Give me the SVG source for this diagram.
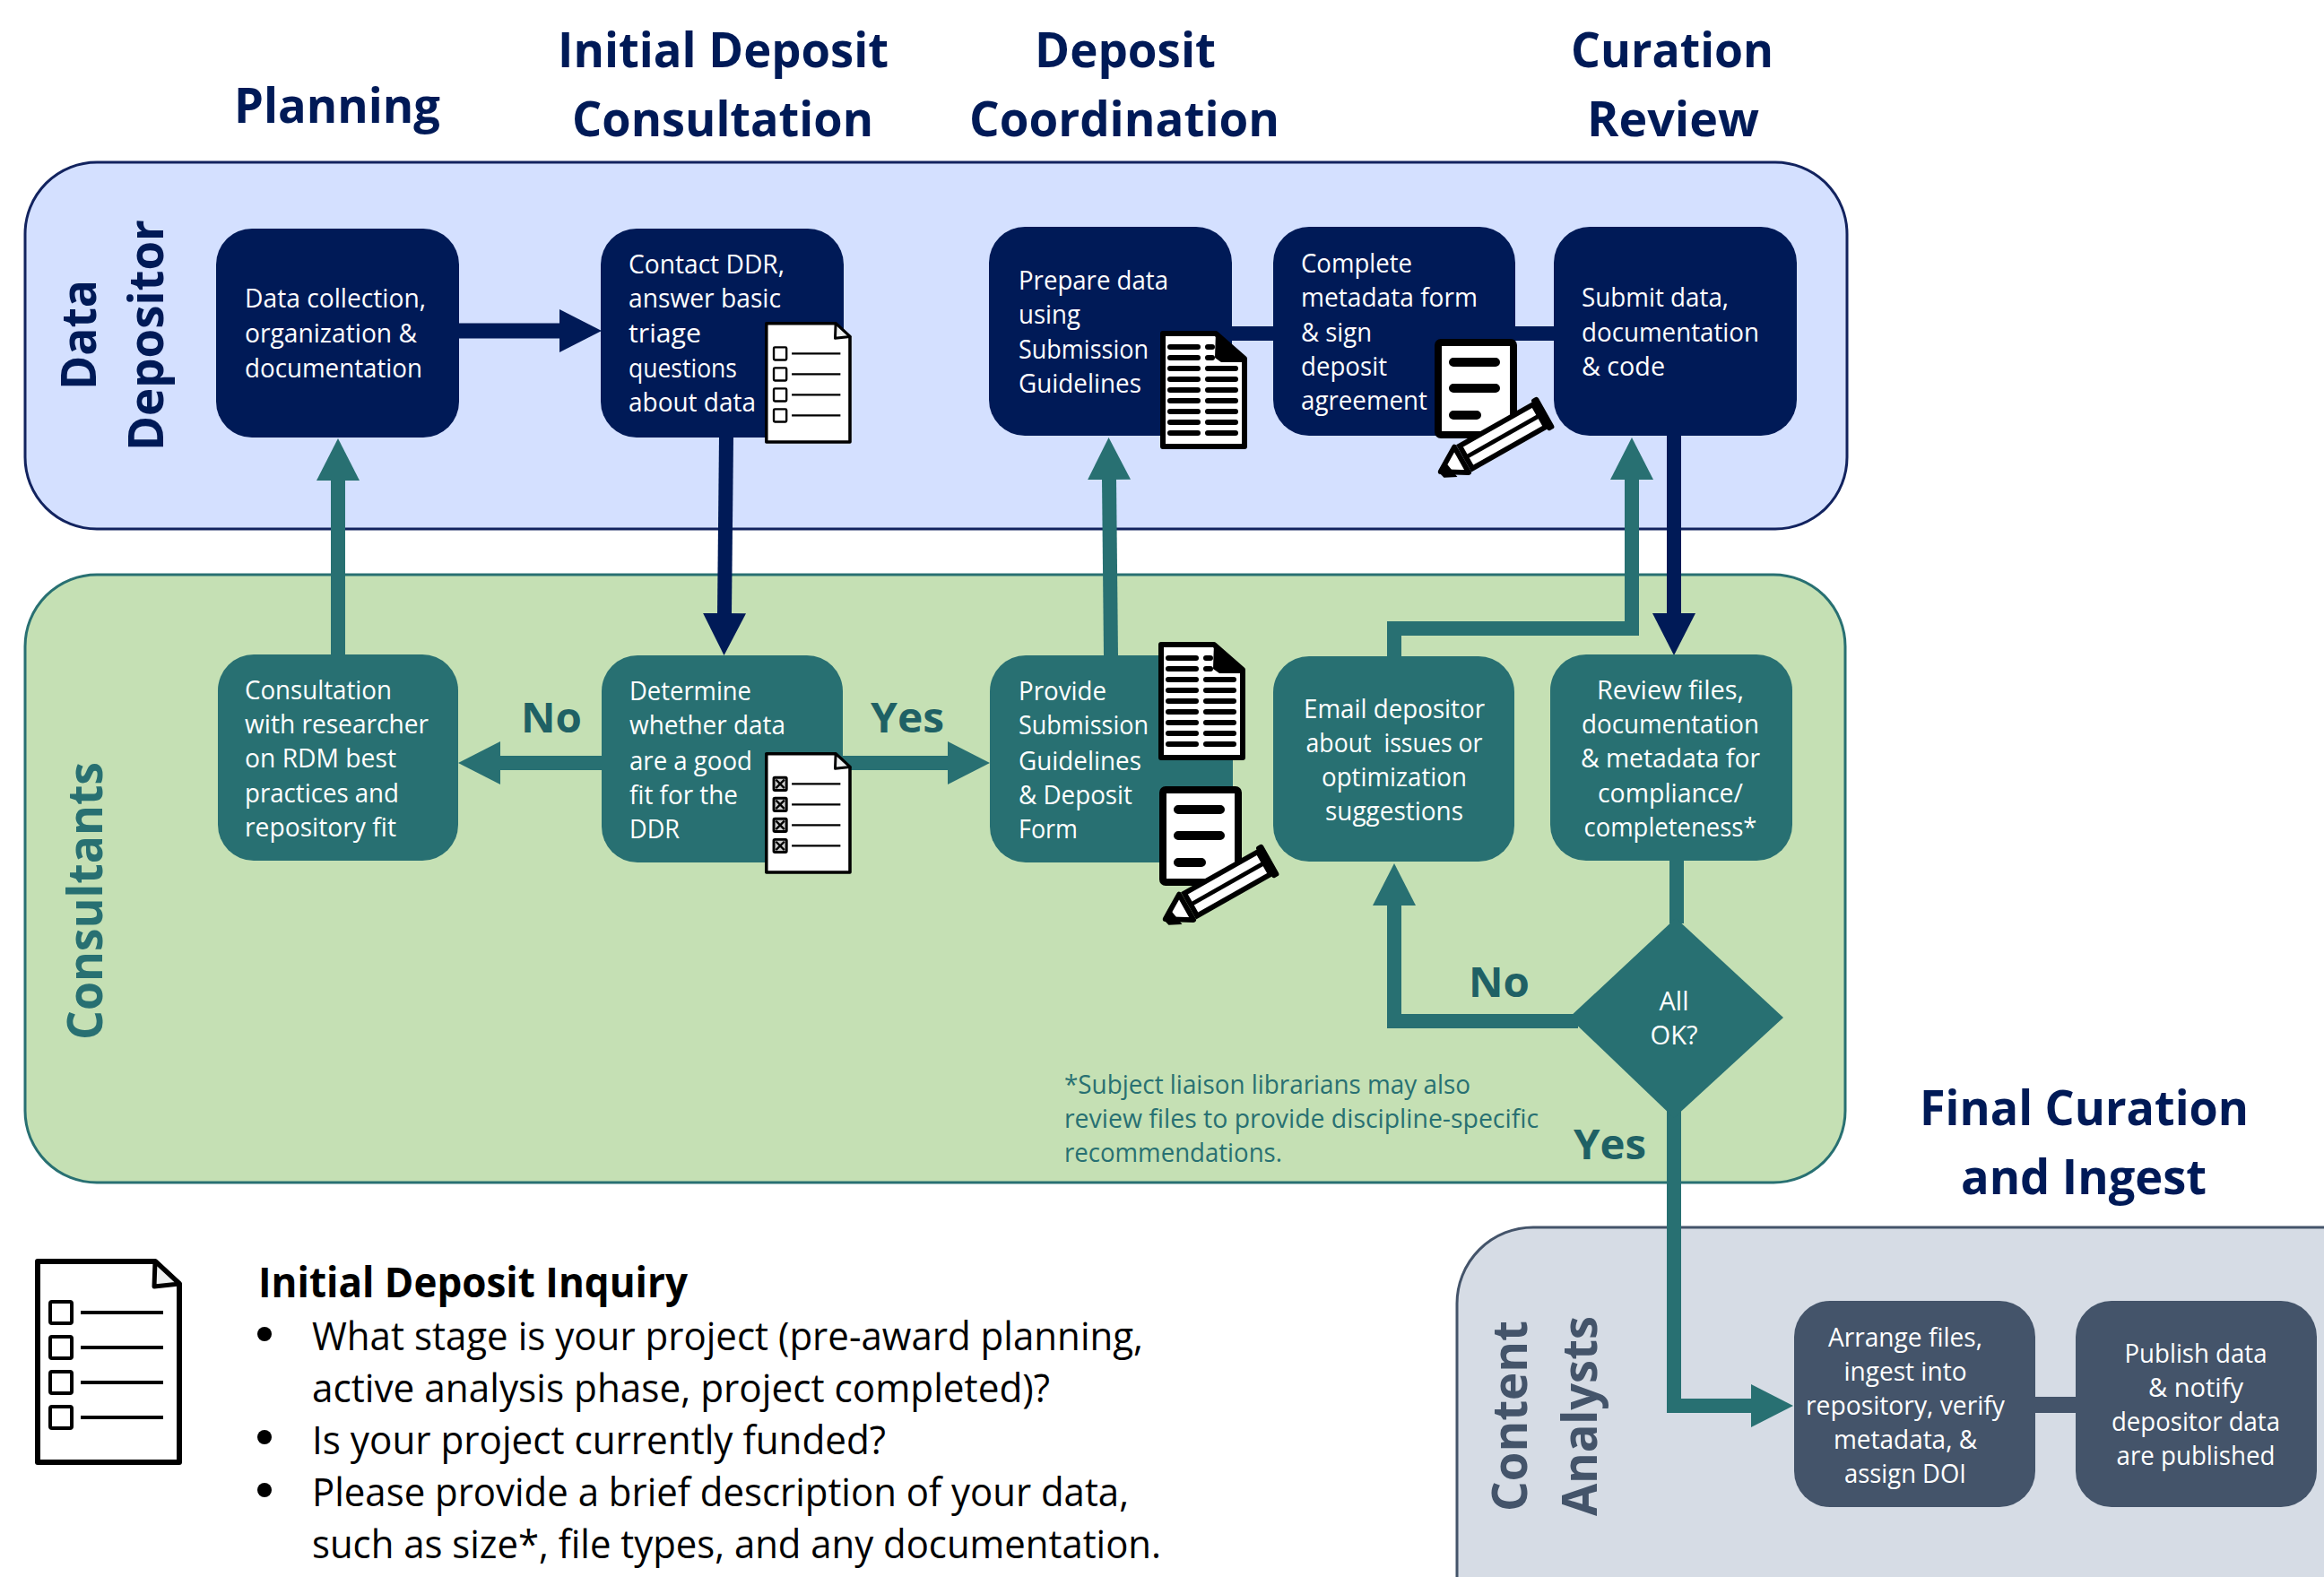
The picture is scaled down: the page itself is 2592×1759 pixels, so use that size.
<svg xmlns="http://www.w3.org/2000/svg" xmlns:xlink="http://www.w3.org/1999/xlink" width="2592" height="1759" viewBox="0 0 2592 1759">
<style>
text{font-family:"Open Sans","Noto Sans","Liberation Sans",sans-serif}
.t{font-size:28.5px;fill:#fff;transform:translateY(1px)}
.m{text-anchor:middle}
.h{font-size:54px;font-weight:700;fill:#001a57}
.lb{font-size:47px;font-weight:700;fill:#1f6165}
.fn{font-size:28.5px;fill:#287072;transform:translateY(2px)}
.q{font-size:43px;fill:#000}
.navy{fill:#001a57}.teal{fill:#287072}.slate{fill:#44546a}
.ln{fill:none;stroke-width:16;stroke-linejoin:miter}
.ik{stroke:#000;fill:none}
</style>
<defs>
<marker id="aT" markerUnits="userSpaceOnUse" markerWidth="48" markerHeight="50" refX="1" refY="25" orient="auto"><path d="M0 1L47 25L0 49z" fill="#287072"/></marker>
<marker id="aN" markerUnits="userSpaceOnUse" markerWidth="48" markerHeight="50" refX="1" refY="25" orient="auto"><path d="M0 1L47 25L0 49z" fill="#001a57"/></marker>
<g id="list">
<path d="M3 3H134L161 28V227H3Z" fill="#fff" stroke="#000" stroke-width="6" stroke-linejoin="round"/>
<path d="M134 3L161 28L133 31Z" fill="#eef0f0" stroke="#000" stroke-width="5" stroke-linejoin="round"/>
<g class="ik" stroke-width="4"><rect x="17" y="48" width="24" height="24" rx="2"/><rect x="17" y="87" width="24" height="24" rx="2"/><rect x="17" y="126" width="24" height="24" rx="2"/><rect x="17" y="165" width="24" height="24" rx="2"/></g>
<path class="ik" stroke-width="4" d="M51 60H143M51 99H143M51 138H143M51 177H143"/>
</g>
<g id="check">
<path d="M3 3H134L161 28V227H3Z" fill="#fff" stroke="#000" stroke-width="6" stroke-linejoin="round"/>
<path d="M134 3L161 28L133 31Z" fill="#eef0f0" stroke="#000" stroke-width="5" stroke-linejoin="round"/>
<g class="ik" stroke-width="5" style="fill:#ccc"><rect x="17" y="48" width="24" height="24" rx="2"/><rect x="17" y="87" width="24" height="24" rx="2"/><rect x="17" y="126" width="24" height="24" rx="2"/><rect x="17" y="165" width="24" height="24" rx="2"/></g>
<path class="ik" stroke-width="4" d="M21 52L37 68M37 52L21 68M21 91L37 107M37 91L21 107M21 130L37 146M37 130L21 146M21 169L37 185M37 169L21 185M51 60H143M51 99H143M51 138H143M51 177H143"/>
</g>
<g id="dense">
<path d="M3 3H62L94 31V129H3Z" fill="#fff" stroke="#000" stroke-width="6" stroke-linejoin="round"/>
<path class="ik" stroke-width="6" stroke-linecap="round" d="M11 18H42M11 30H42M11 42H42M11 54H42M11 66H42M11 78H42M11 90H42M11 102H42M11 114H42M53 42H84M53 54H84M53 66H84M53 78H84M53 90H84M53 102H84M53 114H84M53 18H58M53 30H58"/>
<path d="M62 1L95 29V35H68L61 30Z" fill="#000"/>
</g>
<g id="form">
<rect x="4" y="4" width="84" height="103" rx="3" fill="#fff" stroke="#000" stroke-width="8"/>
<path class="ik" stroke-width="10" stroke-linecap="round" d="M21 26H68M21 55H68M21 85H47"/>
<g transform="translate(5 149) rotate(-29.5) scale(.96)">
<path d="M2 0L30 -17V17Z" fill="#fff" stroke="#000" stroke-width="6" stroke-linejoin="round"/>
<path d="M0 0L12 -9L16 15L2 8Z" fill="#000"/>
<path d="M36 -15H134V15H36Z" fill="#fff" stroke="#000" stroke-width="6"/>
<path d="M36 0H134" stroke="#000" stroke-width="5"/>
<rect x="134" y="-21" width="9" height="42" rx="3" fill="#000"/>
</g>
</g>
</defs>

<g id="swimlanes">
<rect id="band-depositor" x="28" y="181" width="2032" height="409" rx="80" fill="#d4e0ff" stroke="#12235f" stroke-width="3"/>
<rect id="band-consultants" x="28" y="641" width="2030" height="678" rx="80" fill="#c5e0b4" stroke="#287072" stroke-width="3"/>
<rect id="band-analysts" x="1625" y="1369" width="1100" height="600" rx="85" fill="#d6dce5" stroke="#44546a" stroke-width="3"/>
</g>

<g id="connectors">
<path class="ln" stroke="#001a57" style="stroke-width:17" d="M512 369H625" marker-end="url(#aN)"/>
<path class="ln" stroke="#287072" d="M377 731V535" marker-end="url(#aT)"/>
<path class="ln" stroke="#001a57" d="M810 488L808 685" marker-end="url(#aN)"/>
<path class="ln" stroke="#287072" d="M940 851H1058" marker-end="url(#aT)"/>
<path class="ln" stroke="#287072" d="M672 851H557" marker-end="url(#aT)"/>
<path class="ln" stroke="#287072" d="M1239 731L1237 534" marker-end="url(#aT)"/>
<path class="ln" stroke="#001a57" d="M1374 372H1420M1690 372H1734"/>
<path class="ln" stroke="#001a57" d="M1867 486V685" marker-end="url(#aN)"/>
<path class="ln" stroke="#287072" d="M1555 732V701H1820V534" marker-end="url(#aT)"/>
<path class="ln" stroke="#287072" d="M1870 960V1030"/>
<path class="ln" stroke="#287072" d="M1760 1139H1555V1009" marker-end="url(#aT)"/>
<path class="ln" stroke="#287072" d="M1867 1235V1568H1954" marker-end="url(#aT)"/>
<path class="ln" stroke="#44546a" style="stroke-width:18" d="M2270 1567H2315"/>
</g>

<g id="headings">
<text class="h" x="261" y="137" textLength="230" lengthAdjust="spacingAndGlyphs">Planning</text>
<text class="h" x="622" y="75" textLength="369" lengthAdjust="spacingAndGlyphs">Initial Deposit</text>
<text class="h" x="638" y="152" textLength="336" lengthAdjust="spacingAndGlyphs">Consultation</text>
<text class="h" x="1154" y="75" textLength="202" lengthAdjust="spacingAndGlyphs">Deposit</text>
<text class="h" x="1081" y="152" textLength="346" lengthAdjust="spacingAndGlyphs">Coordination</text>
<text class="h" x="1752" y="75" textLength="226" lengthAdjust="spacingAndGlyphs">Curation</text>
<text class="h" x="1770" y="152" textLength="192" lengthAdjust="spacingAndGlyphs">Review</text>
<text class="h" x="2141" y="1255" textLength="367" lengthAdjust="spacingAndGlyphs">Final Curation</text>
<text class="h" x="2187" y="1332" textLength="274" lengthAdjust="spacingAndGlyphs">and Ingest</text>
<text class="h" transform="translate(107 435) rotate(-90)" textLength="123" lengthAdjust="spacingAndGlyphs">Data</text>
<text class="h" transform="translate(182 503) rotate(-90)" textLength="258" lengthAdjust="spacingAndGlyphs">Depositor</text>
<text class="h" style="fill:#287072" transform="translate(114 1160) rotate(-90)" textLength="310" lengthAdjust="spacingAndGlyphs">Consultants</text>
<text class="h" style="fill:#44546a" transform="translate(1703 1686) rotate(-90)" textLength="213" lengthAdjust="spacingAndGlyphs">Content</text>
<text class="h" style="fill:#44546a" transform="translate(1781 1691) rotate(-90)" textLength="223" lengthAdjust="spacingAndGlyphs">Analysts</text>
</g>

<g id="node-data-collection">
<rect class="navy" x="241" y="255" width="271" height="233" rx="40"/>
<text class="t" x="273" y="342" textLength="202" lengthAdjust="spacingAndGlyphs">Data collection,</text>
<text class="t" x="273" y="381" textLength="192" lengthAdjust="spacingAndGlyphs">organization &amp;</text>
<text class="t" x="273" y="420" textLength="198" lengthAdjust="spacingAndGlyphs">documentation</text>
</g>
<g id="node-contact">
<rect class="navy" x="670" y="255" width="271" height="233" rx="40"/>
<text class="t" x="701" y="304" textLength="174" lengthAdjust="spacingAndGlyphs">Contact DDR,</text>
<text class="t" x="701" y="342" textLength="170" lengthAdjust="spacingAndGlyphs">answer basic</text>
<text class="t" x="701" y="381" textLength="81" lengthAdjust="spacingAndGlyphs">triage</text>
<text class="t" x="701" y="420" textLength="121" lengthAdjust="spacingAndGlyphs">questions</text>
<text class="t" x="701" y="458" textLength="142" lengthAdjust="spacingAndGlyphs">about data</text>
<use href="#list" transform="translate(853 359) scale(.59)"/>
</g>
<g id="node-prepare">
<rect class="navy" x="1103" y="253" width="271" height="233" rx="40"/>
<text class="t" x="1136" y="322" textLength="167" lengthAdjust="spacingAndGlyphs">Prepare data</text>
<text class="t" x="1136" y="360" textLength="69" lengthAdjust="spacingAndGlyphs">using</text>
<text class="t" x="1136" y="399" textLength="145" lengthAdjust="spacingAndGlyphs">Submission</text>
<text class="t" x="1136" y="437" textLength="137" lengthAdjust="spacingAndGlyphs">Guidelines</text>
</g>
<g id="node-complete">
<rect class="navy" x="1420" y="253" width="270" height="233" rx="40"/>
<text class="t" x="1451" y="303" textLength="124" lengthAdjust="spacingAndGlyphs">Complete</text>
<text class="t" x="1451" y="341" textLength="197" lengthAdjust="spacingAndGlyphs">metadata form</text>
<text class="t" x="1451" y="380" textLength="79" lengthAdjust="spacingAndGlyphs">&amp; sign</text>
<text class="t" x="1451" y="418" textLength="96" lengthAdjust="spacingAndGlyphs">deposit</text>
<text class="t" x="1451" y="456" textLength="141" lengthAdjust="spacingAndGlyphs">agreement</text>
</g>
<g id="node-submit">
<rect class="navy" x="1733" y="253" width="271" height="233" rx="40"/>
<text class="t" x="1764" y="341" textLength="164" lengthAdjust="spacingAndGlyphs">Submit data,</text>
<text class="t" x="1764" y="380" textLength="198" lengthAdjust="spacingAndGlyphs">documentation</text>
<text class="t" x="1764" y="418" textLength="93" lengthAdjust="spacingAndGlyphs">&amp; code</text>
</g>
<use href="#dense" transform="translate(1294 369)"/>
<use href="#form" transform="translate(1600 378)"/>

<g id="node-consultation">
<rect class="teal" x="243" y="730" width="268" height="230" rx="40"/>
<text class="t" x="273" y="779" textLength="164" lengthAdjust="spacingAndGlyphs">Consultation</text>
<text class="t" x="273" y="817" textLength="205" lengthAdjust="spacingAndGlyphs">with researcher</text>
<text class="t" x="273" y="855" textLength="169" lengthAdjust="spacingAndGlyphs">on RDM best</text>
<text class="t" x="273" y="894" textLength="172" lengthAdjust="spacingAndGlyphs">practices and</text>
<text class="t" x="273" y="932" textLength="169" lengthAdjust="spacingAndGlyphs">repository fit</text>
</g>
<g id="node-determine">
<rect class="teal" x="671" y="731" width="269" height="231" rx="40"/>
<text class="t" x="702" y="780" textLength="136" lengthAdjust="spacingAndGlyphs">Determine</text>
<text class="t" x="702" y="818" textLength="174" lengthAdjust="spacingAndGlyphs">whether data</text>
<text class="t" x="702" y="858" textLength="137" lengthAdjust="spacingAndGlyphs">are a good</text>
<text class="t" x="702" y="896" textLength="121" lengthAdjust="spacingAndGlyphs">fit for the</text>
<text class="t" x="702" y="934" textLength="56" lengthAdjust="spacingAndGlyphs">DDR</text>
<use href="#check" transform="translate(853 839) scale(.59)"/>
</g>
<g id="node-provide">
<rect class="teal" x="1104" y="731" width="271" height="231" rx="40"/>
<text class="t" x="1136" y="780" textLength="98" lengthAdjust="spacingAndGlyphs">Provide</text>
<text class="t" x="1136" y="818" textLength="145" lengthAdjust="spacingAndGlyphs">Submission</text>
<text class="t" x="1136" y="858" textLength="137" lengthAdjust="spacingAndGlyphs">Guidelines</text>
<text class="t" x="1136" y="896" textLength="127" lengthAdjust="spacingAndGlyphs">&amp; Deposit</text>
<text class="t" x="1136" y="934" textLength="66" lengthAdjust="spacingAndGlyphs">Form</text>
<use href="#dense" transform="translate(1292 716)"/>
<use href="#form" transform="translate(1293 877)"/>
</g>
<g id="node-email">
<rect class="teal" x="1420" y="732" width="269" height="229" rx="40"/>
<text class="t m" x="1555" y="800" textLength="202" lengthAdjust="spacingAndGlyphs">Email depositor</text>
<text class="t m" x="1555" y="838" textLength="197" lengthAdjust="spacingAndGlyphs" xml:space="preserve">about  issues or</text>
<text class="t m" x="1555" y="876" textLength="162" lengthAdjust="spacingAndGlyphs">optimization</text>
<text class="t m" x="1555" y="914" textLength="154" lengthAdjust="spacingAndGlyphs">suggestions</text>
</g>
<g id="node-review">
<rect class="teal" x="1729" y="730" width="270" height="230" rx="40"/>
<text class="t m" x="1863" y="779" textLength="164" lengthAdjust="spacingAndGlyphs">Review files,</text>
<text class="t m" x="1863" y="817" textLength="198" lengthAdjust="spacingAndGlyphs">documentation</text>
<text class="t m" x="1863" y="855" textLength="200" lengthAdjust="spacingAndGlyphs">&amp; metadata for</text>
<text class="t m" x="1863" y="894" textLength="162" lengthAdjust="spacingAndGlyphs">compliance/</text>
<text class="t m" x="1863" y="932" textLength="193" lengthAdjust="spacingAndGlyphs">completeness*</text>
</g>
<g id="node-all-ok">
<polygon class="teal" points="1869,1024 1989,1135 1867,1247 1750,1135"/>
<text class="t m" x="1867" y="1126" textLength="33" lengthAdjust="spacingAndGlyphs">All</text>
<text class="t m" x="1867" y="1164" textLength="53" lengthAdjust="spacingAndGlyphs">OK?</text>
</g>
<g id="node-arrange">
<rect class="slate" x="2001" y="1451" width="269" height="230" rx="40"/>
<text class="t m" x="2125" y="1501" textLength="172" lengthAdjust="spacingAndGlyphs">Arrange files,</text>
<text class="t m" x="2125" y="1539" textLength="137" lengthAdjust="spacingAndGlyphs">ingest into</text>
<text class="t m" x="2125" y="1577" textLength="222" lengthAdjust="spacingAndGlyphs">repository, verify</text>
<text class="t m" x="2125" y="1615" textLength="160" lengthAdjust="spacingAndGlyphs">metadata, &amp;</text>
<text class="t m" x="2125" y="1653" textLength="136" lengthAdjust="spacingAndGlyphs">assign DOI</text>
</g>
<g id="node-publish">
<rect class="slate" x="2315" y="1451" width="269" height="230" rx="40"/>
<text class="t m" x="2449" y="1519" textLength="159" lengthAdjust="spacingAndGlyphs">Publish data</text>
<text class="t m" x="2449" y="1557" textLength="106" lengthAdjust="spacingAndGlyphs">&amp; notify</text>
<text class="t m" x="2449" y="1595" textLength="188" lengthAdjust="spacingAndGlyphs">depositor data</text>
<text class="t m" x="2449" y="1633" textLength="177" lengthAdjust="spacingAndGlyphs">are published</text>
</g>

<g id="labels">
<text class="lb" x="581" y="817" textLength="68" lengthAdjust="spacingAndGlyphs">No</text>
<text class="lb" x="971" y="817" textLength="82" lengthAdjust="spacingAndGlyphs">Yes</text>
<text class="lb" x="1638" y="1112" textLength="68" lengthAdjust="spacingAndGlyphs">No</text>
<text class="lb" x="1755" y="1293" textLength="81" lengthAdjust="spacingAndGlyphs">Yes</text>
<text class="fn" x="1187" y="1218" textLength="453" lengthAdjust="spacingAndGlyphs">*Subject liaison librarians may also</text>
<text class="fn" x="1187" y="1256" textLength="529" lengthAdjust="spacingAndGlyphs">review files to provide discipline-specific</text>
<text class="fn" x="1187" y="1294" textLength="243" lengthAdjust="spacingAndGlyphs">recommendations.</text>
</g>

<g id="inquiry">
<use href="#list" transform="translate(39 1404)"/>
<text x="288" y="1447" font-size="46" font-weight="700" textLength="479" lengthAdjust="spacingAndGlyphs" fill="#000">Initial Deposit Inquiry</text>
<circle cx="295" cy="1488" r="8"/><circle cx="295" cy="1603" r="8"/><circle cx="295" cy="1662" r="8"/>
<text class="q" x="348" y="1506" textLength="927" lengthAdjust="spacingAndGlyphs">What stage is your project (pre-award planning,</text>
<text class="q" x="348" y="1564" textLength="823" lengthAdjust="spacingAndGlyphs">active analysis phase, project completed)?</text>
<text class="q" x="348" y="1622" textLength="640" lengthAdjust="spacingAndGlyphs">Is your project currently funded?</text>
<text class="q" x="348" y="1680" textLength="911" lengthAdjust="spacingAndGlyphs">Please provide a brief description of your data,</text>
<text class="q" x="348" y="1738" textLength="947" lengthAdjust="spacingAndGlyphs">such as size*, file types, and any documentation.</text>
</g>
</svg>
